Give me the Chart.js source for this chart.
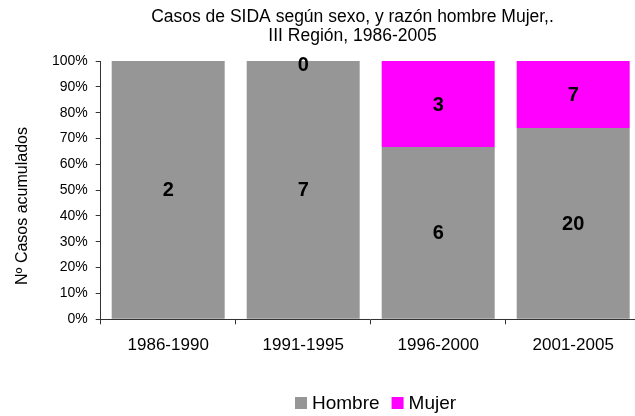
<!DOCTYPE html>
<html>
<head>
<meta charset="utf-8">
<script src="https://cdn.jsdelivr.net/npm/chart.js@4"></script>
<style>
  html, body { margin: 0; padding: 0; background: #fff; overflow: hidden; }
  #wrap { width: 645px; height: 416px; }
</style>
</head>
<body>
<div id="wrap"><canvas id="chart" width="645" height="416"></canvas></div>
<script>
const periodos = ['1986-1990', '1991-1995', '1996-2000', '2001-2005'];
const casosHombre = [2, 7, 6, 20];
const casosMujer = [0, 0, 3, 7];
// Excel only printed the zero label on the second bar
const mostrarMujer = [false, true, true, true];
const titulo = ['Casos de SIDA según sexo, y razón hombre Mujer,.', 'III Región, 1986-2005'];
const tituloEjeY = 'Nº Casos acumulados';
const series = ['Hombre', 'Mujer'];
const colores = ['#969696', '#ff00ff'];

const FONT = '"Liberation Sans", Arial, sans-serif';

// turn counts into shares of each period
const totales = casosHombre.map((h, i) => h + casosMujer[i]);
const pctHombre = casosHombre.map((h, i) => h / totales[i] * 100);
const pctMujer = casosMujer.map((m, i) => m / totales[i] * 100);

const extras = {
    id: 'extras',
    afterDatasetsDraw(chart) {
        const ctx = chart.ctx;
        const area = chart.chartArea;
        ctx.save();
        ctx.fillStyle = '#000';
        ctx.font = 'bold 20px ' + FONT;
        ctx.textAlign = 'center';
        ctx.textBaseline = 'middle';
        const cuentas = [casosHombre, casosMujer];
        chart.data.datasets.forEach((ds, d) => {
            chart.getDatasetMeta(d).data.forEach((bar, i) => {
                if (d === 1 && !mostrarMujer[i]) return;
                let y = (bar.y + bar.base) / 2;
                y = Math.max(y, area.top + 3);
                ctx.fillText(String(cuentas[d][i]), bar.x, y + 1);
            });
        });
        ctx.restore();
    },
    afterDraw(chart) {
        const ctx = chart.ctx;
        ctx.save();
        ctx.fillStyle = '#000';

        // title
        ctx.font = '17.5px ' + FONT;
        ctx.textAlign = 'center';
        ctx.textBaseline = 'alphabetic';
        ctx.fillText(titulo[0], 352.5, 21.7);
        ctx.fillText(titulo[1], 352.5, 40.6);

        // y axis title
        ctx.save();
        ctx.translate(23, 206);
        ctx.rotate(-Math.PI / 2);
        ctx.font = '16px ' + FONT;
        ctx.textBaseline = 'middle';
        ctx.fillText(tituloEjeY, 0, 0);
        ctx.restore();

        // legend
        ctx.font = '19px ' + FONT;
        ctx.textAlign = 'left';
        ctx.textBaseline = 'middle';
        let x = 295;
        const yLeg = 403;
        series.forEach((s, i) => {
            ctx.fillStyle = colores[i];
            ctx.fillRect(x, yLeg - 6, 12, 12);
            x += 12 + 5;
            ctx.fillStyle = '#000';
            ctx.fillText(s, x, yLeg + 1);
            x += ctx.measureText(s).width + 12;
        });
        ctx.restore();
    }
};

const ctx = document.getElementById('chart').getContext('2d');
const chart = new Chart(ctx, {
    type: 'bar',
    data: {
        labels: periodos,
        datasets: [
            { label: series[0], data: pctHombre, backgroundColor: colores[0] },
            { label: series[1], data: pctMujer, backgroundColor: colores[1] }
        ]
    },
    options: {
        responsive: false,
        animation: false,
        events: [],
        layout: { padding: { top: 61, right: 4.3, left: 0, bottom: 0 } },
        datasets: {
            bar: { barPercentage: 0.837, categoryPercentage: 1, borderWidth: 0 }
        },
        plugins: {
            legend: { display: false },
            title: { display: false },
            tooltip: { enabled: false }
        },
        scales: {
            x: {
                stacked: true,
                offset: true,
                grid: {
                    offset: true,
                    drawOnChartArea: false,
                    drawTicks: true,
                    tickLength: 5,
                    color: '#333'
                },
                border: { color: '#333', width: 1 },
                ticks: {
                    color: '#000',
                    font: { family: FONT, size: 17 },
                    padding: 11,
                    maxRotation: 0
                },
                afterFit(scale) { scale.height = 96.7; }
            },
            y: {
                stacked: true,
                min: 0,
                max: 100,
                grid: {
                    drawOnChartArea: false,
                    drawTicks: true,
                    tickLength: 5,
                    color: '#333'
                },
                border: { color: '#333', width: 1 },
                ticks: {
                    stepSize: 10,
                    color: '#000',
                    font: { family: FONT, size: 14 },
                    padding: 8,
                    callback: v => v + '%'
                },
                afterFit(scale) { scale.width = 100.7; }
            }
        }
    },
    plugins: [extras]
});
</script>
</body>
</html>
